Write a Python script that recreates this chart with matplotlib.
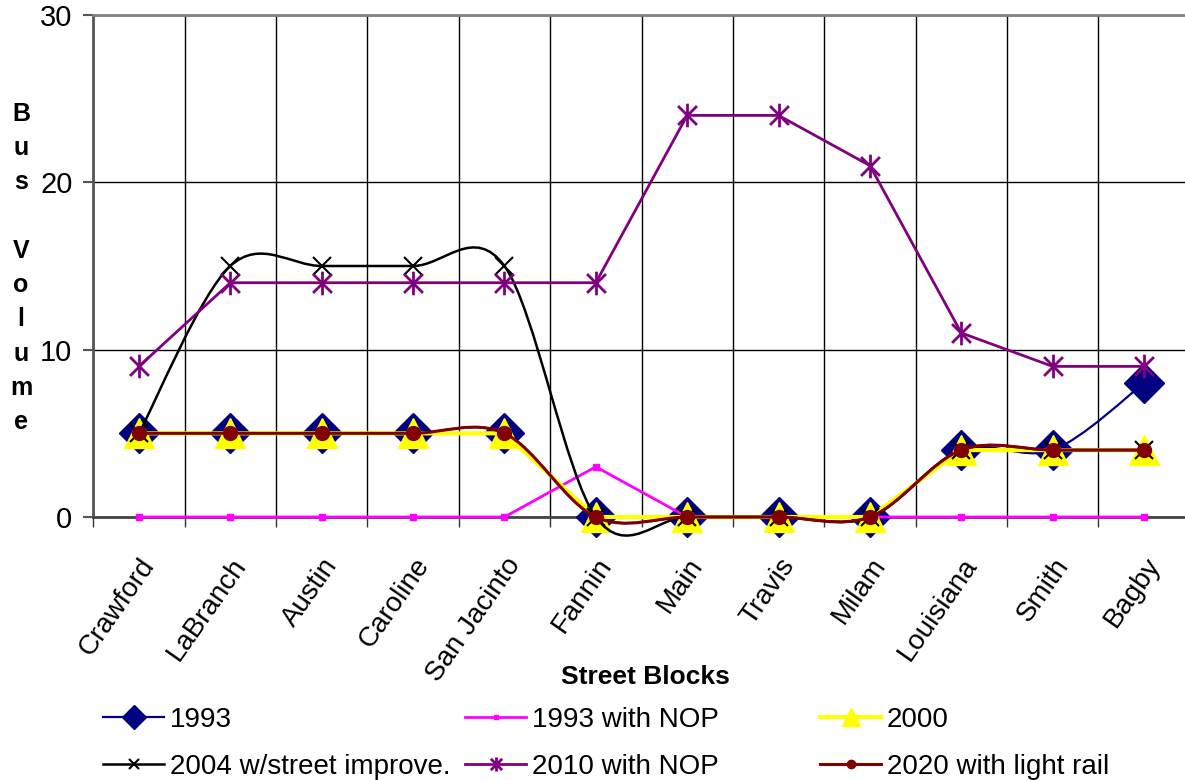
import numpy as np
import matplotlib
matplotlib.use("Agg")
import matplotlib.pyplot as plt
from matplotlib.path import Path
from matplotlib.patches import PathPatch
from matplotlib.ticker import FixedLocator, NullFormatter

plt.rcParams['font.family'] = ['Liberation Sans', 'DejaVu Sans']

# Data
blocks = ["Crawford", "LaBranch", "Austin", "Caroline", "San Jacinto", "Fannin",
          "Main", "Travis", "Milam", "Louisiana", "Smith", "Bagby"]
bus_1993 = [5, 5, 5, 5, 5, 0, 0, 0, 0, 4, 4, 8]
bus_1993_nop = [0, 0, 0, 0, 0, 3, 0, 0, 0, 0, 0, 0]
bus_2000 = [5, 5, 5, 5, 5, 0, 0, 0, 0, 4, 4, 4]
bus_2004 = [5, 15, 15, 15, 15, 0, 0, 0, 0, 4, 4, 4]
bus_2010_nop = [9, 14, 14, 14, 14, 14, 24, 24, 21, 11, 9, 9]
bus_2020_rail = [5, 5, 5, 5, 5, 0, 0, 0, 0, 4, 4, 4]


def smooth_path(xs, ys):
    # Excel-style smoothed line: cubic Bezier with Catmull-Rom tangents
    pts = np.column_stack([xs, ys]).astype(float)
    n = len(pts)
    verts = [pts[0]]
    codes = [Path.MOVETO]
    for i in range(n - 1):
        p0 = pts[i - 1] if i > 0 else pts[i]
        p1, p2 = pts[i], pts[i + 1]
        p3 = pts[i + 2] if i + 2 < n else pts[i + 1]
        verts += [p1 + (p2 - p0) / 6, p2 - (p3 - p1) / 6, p2]
        codes += [Path.CURVE4] * 3
    return Path(verts, codes)


# asterisk marker (vertical bar plus an X)
star = Path([(0, -1), (0, 1), (-0.8, -0.8), (0.8, 0.8), (-0.8, 0.8), (0.8, -0.8)],
            [Path.MOVETO, Path.LINETO] * 3)

fig = plt.figure(figsize=(11.85, 7.8), dpi=100)
W, H = 1185, 780
ax = fig.add_axes([93.3 / W, 1 - 517 / H, (1189.7 - 93.3) / W, (517 - 15) / H])

x = np.arange(len(blocks))

series = [
    ("1993", bus_1993, dict(color="#000080", lw=1.6, marker="D", ms=20,
                            mfc="#000080", mec="#000080"), True),
    ("1993 with NOP", bus_1993_nop, dict(color="#FF00FF", lw=2, marker="s", ms=5,
                                         mfc="#FF00FF", mec="#FF00FF"), False),
    ("2000", bus_2000, dict(color="#FFFF00", lw=3, marker="^", ms=21,
                            mfc="#FFFF00", mec="#FFFF00"), False),
    ("2004 w/street improve.", bus_2004, dict(color="black", lw=1.8, marker="x", ms=13,
                                              mew=1.5), True),
    ("2010 with NOP", bus_2010_nop, dict(color="#800080", lw=2.0, marker=star, ms=17,
                                         mew=2.0, mec="#800080"), False),
    ("2020 with light rail", bus_2020_rail, dict(color="#800000", lw=2.2, marker="o", ms=10,
                                                 mfc="#800000", mec="#800000"), True),
]

handles = []
for z, (name, vals, st, smooth) in enumerate(series):
    if smooth:
        ax.add_patch(PathPatch(smooth_path(x, vals), fill=False, edgecolor=st["color"],
                               lw=st["lw"], zorder=3 + z, clip_on=False))
        ax.plot(x, vals, ls="none", zorder=3 + z, clip_on=False,
                **{k: v for k, v in st.items() if k != "lw"})
    else:
        ax.plot(x, vals, zorder=3 + z, clip_on=False, **st)
    leg_h, = ax.plot([], [], label=name, **st)
    handles.append(leg_h)

ax.set_xlim(-0.5, len(blocks) - 0.5)
ax.set_ylim(0, 30)
ax.set_yticks([0, 10, 20, 30])
ax.set_xticks(x)
ax.set_xticklabels(blocks, rotation=55, ha="right", va="top", rotation_mode="anchor",
                   fontsize=20)
ax.xaxis.set_minor_locator(FixedLocator(np.arange(-0.5, len(blocks), 1.0)))
ax.xaxis.set_minor_formatter(NullFormatter())
ax.tick_params(axis="x", which="major", length=0, pad=26)
ax.tick_params(axis="x", which="minor", length=7, width=1, color="#333333")
ax.tick_params(axis="y", length=7, width=1.5, color="#555555", labelsize=21, pad=8)

ax.grid(True, which="minor", axis="x", color="black", lw=1)
ax.grid(True, which="major", axis="y", color="black", lw=1)
for s in ax.spines.values():
    s.set_color("#808080")
    s.set_linewidth(2)
ax.spines["bottom"].set_color("#444444")
ax.spines["left"].set_color("#555555")

fig.text(21 / W, 1 - 268 / H, "B\nu\ns\n\nV\no\nl\nu\nm\ne", ha="center", va="center",
         fontsize=18, fontweight="bold", linespacing=1.54)
fig.text(645 / W, 1 - 677 / H, "Street Blocks", ha="center", va="center",
         fontsize=19, fontweight="bold")

# legend as three fixed columns
col_x = [103, 465, 820]
for c in range(3):
    hs = [handles[c], handles[c + 3]]
    fig.legend(handles=hs, labels=[h.get_label() for h in hs], loc="upper left",
               bbox_to_anchor=(col_x[c] / W, 1 - 707 / H), frameon=False,
               fontsize=20, handlelength=2.2, handletextpad=0.2, borderpad=0,
               borderaxespad=0, labelspacing=0.75, markerscale=0.6)

fig.savefig("out.png", dpi=100)
